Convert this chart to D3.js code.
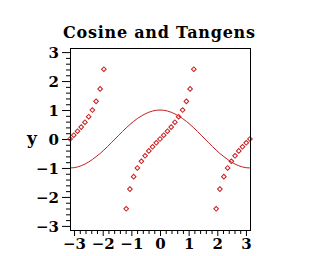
<!DOCTYPE html>
<html>
<head>
<meta charset="UTF-8">
<script src="https://cdn.jsdelivr.net/npm/d3@7"></script>
<style>
  body { margin: 0; background: #fff; }
  text { font-family: "DejaVu Serif", "Liberation Serif", serif; font-weight: bold; fill: #000; }
</style>
</head>
<body>
<svg id="chart" width="320" height="256"></svg>
<script>
// x grid of the sampled points (radians)
var xs = [-3.14, -3.01, -2.88, -2.75, -2.62, -2.49, -2.36, -2.23, -2.09, -1.96,
          -1.83, -1.70, -1.57, -1.44, -1.31, -1.18, -1.05, -0.92, -0.79, -0.65,
          -0.52, -0.39, -0.26, -0.13, 0, 0.13, 0.26, 0.39, 0.52, 0.65,
          0.79, 0.92, 1.05, 1.18, 1.31, 1.44, 1.57, 1.70, 1.83, 1.96,
          2.09, 2.23, 2.36, 2.49, 2.62, 2.75, 2.88, 3.01, 3.14];
var cosVals = [-1, -0.991, -0.966, -0.924, -0.866, -0.793, -0.707, -0.609, -0.5, -0.383,
               -0.259, -0.131, 0, 0.131, 0.259, 0.383, 0.5, 0.609, 0.707, 0.793,
               0.866, 0.924, 0.966, 0.991, 1, 0.991, 0.966, 0.924, 0.866, 0.793,
               0.707, 0.609, 0.5, 0.383, 0.259, 0.131, 0, -0.131, -0.259, -0.383,
               -0.5, -0.609, -0.707, -0.793, -0.866, -0.924, -0.966, -0.991, -1];
// tangent points, null where it blows up
var tanVals = [0, 0.13, 0.27, 0.41, 0.58, 0.77, 1.00, 1.30, 1.73, 2.41,
               3.73, 7.60, null, -7.60, -3.73, -2.41, -1.73, -1.30, -1.00, -0.77,
               -0.58, -0.41, -0.27, -0.13, 0, 0.13, 0.27, 0.41, 0.58, 0.77,
               1.00, 1.30, 1.73, 2.41, 3.73, 7.60, null, -7.60, -3.73, -2.41,
               -1.73, -1.30, -1.00, -0.77, -0.58, -0.41, -0.27, -0.13, 0];
var xTicks = [-3, -2, -1, 0, 1, 2, 3];
var yTicks = [-3, -2, -1, 0, 1, 2, 3];
var minorTicks = [-2.8, -2.6, -2.4, -2.2, -1.8, -1.6, -1.4, -1.2, -0.8, -0.6, -0.4, -0.2,
                  0.2, 0.4, 0.6, 0.8, 1.2, 1.4, 1.6, 1.8, 2.2, 2.4, 2.6, 2.8];

var red = "#c41e1e";
var plotL = 70, plotR = 250, plotT = 48, plotB = 230;

var svg = d3.select("#chart");
var x = d3.scaleLinear().domain([-Math.PI, Math.PI]).range([plotL, plotR]);
var y = d3.scaleLinear().domain([-Math.PI, Math.PI]).range([plotB, plotT]);

svg.append("text")
   .attr("x", 159).attr("y", 38)
   .attr("text-anchor", "middle")
   .attr("font-size", 16)
   .attr("textLength", 192)
   .attr("lengthAdjust", "spacing")
   .text("Cosine and Tangens");

svg.append("text")
   .attr("x", 32).attr("y", y(0) + 5)
   .attr("text-anchor", "middle")
   .attr("font-size", 17)
   .text("y");

function fmt(d){ return d < 0 ? "\u2212" + (-d) : "" + d; }

var yAxis = d3.axisLeft(y).tickValues(yTicks).tickSize(8).tickPadding(3).tickFormat(fmt);
var yAxisMinor = d3.axisLeft(y).tickValues(minorTicks).tickSize(4).tickFormat("");
var xAxis = d3.axisBottom(x).tickValues(xTicks).tickSize(6).tickPadding(2).tickFormat(fmt);
var xAxisMinor = d3.axisBottom(x).tickValues(minorTicks).tickSize(4).tickFormat("");

[yAxis, yAxisMinor].forEach(function(a){
  var g = svg.append("g").attr("transform", "translate(" + plotL + ",0)").call(a);
  g.select(".domain").remove();
  g.selectAll("text").attr("font-size", 15).attr("font-family", null).attr("dy", "0.35em");
  g.selectAll("line").attr("stroke", "#000");
});
[xAxis, xAxisMinor].forEach(function(a){
  var g = svg.append("g").attr("transform", "translate(0," + plotB + ")").call(a);
  g.select(".domain").remove();
  g.selectAll("text").attr("font-size", 15).attr("font-family", null);
  g.selectAll("line").attr("stroke", "#000");
});

svg.append("clipPath").attr("id", "plot")
   .append("rect").attr("x", plotL - 3).attr("y", plotT).attr("width", plotR - plotL + 6).attr("height", plotB - plotT);

var plot = svg.append("g").attr("clip-path", "url(#plot)");

var line = d3.line().x(function(d, i){ return x(xs[i]); }).y(function(d){ return y(d); });
plot.append("path")
    .datum(cosVals)
    .attr("d", line)
    .attr("fill", "none")
    .attr("stroke", red)
    .attr("stroke-width", 1);

var pts = xs.map(function(v, i){ return { x: v, y: tanVals[i] }; })
            .filter(function(d){ return d.y !== null; });
var diamond = d3.symbol().type(d3.symbolSquare).size(11);
plot.selectAll(".pt").data(pts).enter().append("path")
    .attr("class", "pt")
    .attr("d", diamond)
    .attr("transform", function(d){ return "translate(" + x(d.x) + "," + y(d.y) + ") rotate(45)"; })
    .attr("fill", "none")
    .attr("stroke", red)
    .attr("stroke-width", 1);

svg.append("rect")
   .attr("x", plotL + 0.5).attr("y", plotT + 0.5)
   .attr("width", plotR - plotL).attr("height", plotB - plotT)
   .attr("fill", "none").attr("stroke", "#000").attr("stroke-width", 1);
</script>
</body>
</html>
